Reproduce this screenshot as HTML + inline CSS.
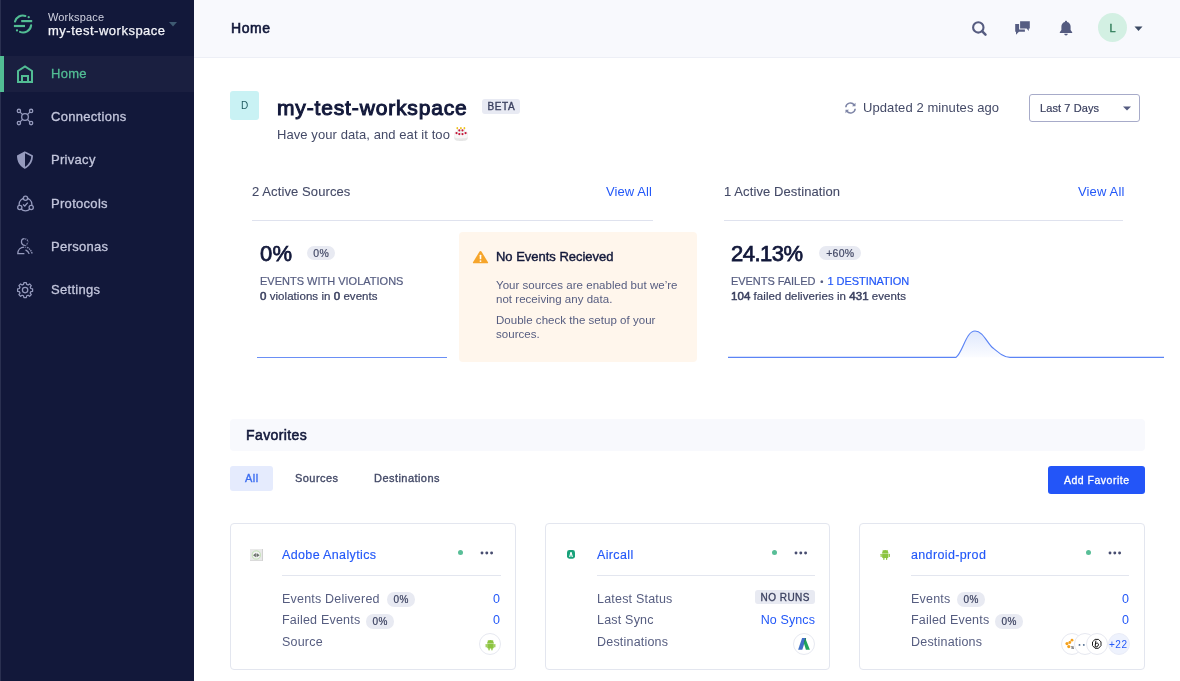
<!DOCTYPE html>
<html><head><meta charset="utf-8">
<style>
*{margin:0;padding:0;box-sizing:border-box}
html,body{width:1180px;height:681px;overflow:hidden;background:#fff;font-family:"Liberation Sans",sans-serif}
.a{position:absolute;white-space:nowrap;will-change:transform}
.nav .t{will-change:transform}
#side{position:absolute;left:0;top:0;width:194px;height:681px;background:#12183a}
#side .edge{position:absolute;left:0;top:0;width:1px;height:681px;background:#2a3050}
#side .ws1{left:48px;top:11px;font-size:11px;letter-spacing:0.15px;color:#d0d2e0}
#side .ws2{left:48px;top:23.5px;font-size:13px;line-height:14px;letter-spacing:0.5px;color:#f4f5fa;-webkit-text-stroke:0.25px currentColor}
.nav{position:absolute;left:0;width:194px;height:36px}
.nav .t{position:absolute;left:50.8px;top:11.2px;font-size:13px;line-height:13px;letter-spacing:0.3px;-webkit-text-stroke:0.3px currentColor;color:#c3c6dc}
.nav svg{position:absolute;left:16px;top:9px}
#hdr{position:absolute;left:194px;top:0;width:986px;height:58px;background:#f8f9fd;border-bottom:1px solid #edeff6}
</style></head><body>
<div id="side">
  <div class="edge"></div>
  <svg class="a" style="left:0;top:0" width="40" height="40" viewBox="0 0 40 40">
    <g fill="none" stroke="#52bd94" stroke-width="2.1" stroke-linecap="round">
      <path d="M15 21.6A8.1 8.1 0 0 1 25.4 16"/>
      <path d="M31.1 25.4A8.1 8.1 0 0 1 20 31.9"/>
    </g>
    <g stroke="#52bd94" stroke-width="2.2">
      <line x1="21.2" y1="21.1" x2="32.2" y2="21.1"/>
      <line x1="13.9" y1="26" x2="25" y2="26"/>
    </g>
    <circle cx="28.7" cy="17.2" r="1.15" fill="#52bd94"/>
    <circle cx="17" cy="30.4" r="1.15" fill="#52bd94"/>
  </svg>
  <div class="a ws1">Workspace</div>
  <div class="a ws2">my-test-workspace</div>
  <svg class="a" style="left:169px;top:22px" width="8" height="5"><path d="M0 0H8L4 4.5Z" fill="#3e5a72"/></svg>

  <div class="nav" style="top:56px;background:#1a1f40">
    <div style="position:absolute;left:0;top:0;width:3.5px;height:36px;background:#52bd94"></div>
    <div class="t" style="color:#52bd94">Home</div>
  </div>
  <div class="nav" style="top:99px"><div class="t">Connections</div></div>
  <div class="nav" style="top:142.2px"><div class="t">Privacy</div></div>
  <div class="nav" style="top:185.4px"><div class="t">Protocols</div></div>
  <div class="nav" style="top:228.8px"><div class="t">Personas</div></div>
  <div class="nav" style="top:271.8px"><div class="t">Settings</div></div>
  <svg class="a" style="left:0;top:50px" width="40" height="260" viewBox="0 50 40 260">
    <g fill="none" stroke="#52bd94" stroke-width="2" stroke-linejoin="miter">
      <path d="M18 82V71L25 66.5L32 71V82Z"/>
      <path d="M22 82V76H28V82"/>
    </g>
    <g fill="none" stroke="#959abd" stroke-width="1.3">
      <circle cx="25" cy="117" r="3.35"/>
      <circle cx="18.9" cy="110.9" r="1.65"/><circle cx="31.1" cy="110.9" r="1.65"/>
      <circle cx="18.9" cy="123.1" r="1.65"/><circle cx="31.1" cy="123.1" r="1.65"/>
      <path d="M20.1 112.1L22.6 114.6M29.9 112.1L27.4 114.6M20.1 121.9L22.6 119.4M29.9 121.9L27.4 119.4"/>
    </g>
    <path d="M25 151.2L17 155.4C17 161.5 19.5 165.8 25 168.9Z" fill="#959abd"/>
    <path d="M25 152.2L32.2 155.9C32 161.3 29.6 165.3 25 168" fill="none" stroke="#959abd" stroke-width="1.7" stroke-linejoin="round"/>
    <g fill="none" stroke="#959abd" stroke-width="1.3">
      <circle cx="25.5" cy="204.4" r="6.4"/>
      <circle cx="25.5" cy="198.3" r="2.1" fill="#13193b"/>
      <circle cx="19.8" cy="207.5" r="2.1" fill="#13193b"/>
      <circle cx="31.2" cy="207.5" r="2.1" fill="#13193b"/>
      <path d="M23 204.4L24.8 206L27.8 202.6"/>
    </g>
    <g fill="none" stroke="#959abd" stroke-width="1.3">
      <path d="M24.9 245.3A3.3 3.3 0 1 1 24.6 238.7"/>
      <path d="M25.3 238.8A3.3 3.3 0 0 1 27.9 242.2" stroke-dasharray="1.1 0.9"/>
      <path d="M27.5 243.3L26.5 244.9" stroke-dasharray="0.9 0.7"/>
      <path d="M25.6 245.2V247.6" stroke-dasharray="0.9 0.7"/>
      <path d="M24.2 247.1C20.5 247.3 17.8 250 17.8 253.6H24.4"/>
      <path d="M25.5 249.8C27.3 250.6 28.6 252 29.2 253.9"/>
      <path d="M27.2 247.4C29.6 248.6 31.3 250.8 32.3 253.9" stroke-dasharray="1.4 0.8"/>
    </g>
    <g fill="none" stroke="#959abd" stroke-width="1.25" stroke-linejoin="round">
      <circle cx="25.1" cy="290.1" r="2.7"/>
      <path d="M23.9 282.6H26.3L26.7 284.4L28.1 285L29.6 283.9L31.3 285.6L30.2 287.1L30.8 288.5L32.6 288.9V291.3L30.8 291.7L30.2 293.1L31.3 294.6L29.6 296.3L28.1 295.2L26.7 295.8L26.3 297.6H23.9L23.5 295.8L22.1 295.2L20.6 296.3L18.9 294.6L20 293.1L19.4 291.7L17.6 291.3V288.9L19.4 288.5L20 287.1L18.9 285.6L20.6 283.9L22.1 285L23.5 284.4Z"/>
    </g>
  </svg>
</div>

<div id="hdr">
  <div class="a" style="left:36.5px;top:21px;font-size:14px;line-height:14px;-webkit-text-stroke:0.6px currentColor;letter-spacing:0.6px;color:#12183a">Home</div>
  <svg class="a" style="left:777px;top:20px" width="17" height="17" viewBox="0 0 17 17"><circle cx="7.3" cy="7.4" r="5.2" fill="none" stroke="#565c80" stroke-width="2.1"/><path d="M11.3 11.4L14.5 14.6" stroke="#565c80" stroke-width="2.5" stroke-linecap="round"/></svg>
  <svg class="a" style="left:820px;top:20px" width="17" height="16" viewBox="0 0 17 16"><path d="M1.2 4.1H5.1V9.6H10.9V11.7H4.9L2 14.8V11.7H1.2Z" fill="#565d82"/><path d="M6.1 1.2H15.8V8.6H14.8V10.9L12.6 8.6H6.1Z" fill="#565d82"/></svg>
  <svg class="a" style="left:865px;top:20px" width="14" height="16" viewBox="0 0 14 16"><path d="M7 0.8C7.7 0.8 8.1 1.3 8.1 1.9C10.3 2.4 11.6 4.2 11.6 6.6V10L13.2 12.3V13H0.8V12.3L2.4 10V6.6C2.4 4.2 3.7 2.4 5.9 1.9C5.9 1.3 6.3 0.8 7 0.8Z" fill="#545b80"/><path d="M5.3 13.8H8.7C8.7 14.8 8 15.4 7 15.4C6 15.4 5.3 14.8 5.3 13.8Z" fill="#545b80"/></svg>
  <div class="a" style="left:904px;top:13px;width:29px;height:29px;border-radius:50%;background:#d3f0e3"></div>
  <div class="a" style="left:904px;top:14px;width:29px;height:29px;line-height:29px;text-align:center;font-size:11px;-webkit-text-stroke:0.35px currentColor;color:#2a7a55">L</div>
  <svg class="a" style="left:939.5px;top:26px" width="9" height="6"><path d="M0.5 0.5H8.5L4.5 5Z" fill="#3b4a63"/></svg>
</div>

<!-- workspace header -->
<div class="a" style="left:230px;top:91px;width:29px;height:29px;border-radius:3px;background:#c9f2f4"></div>
<div class="a" style="left:230px;top:91px;width:29px;height:29px;line-height:29px;text-align:center;font-size:10px;color:#1e5a5f">D</div>
<div class="a" style="left:277px;top:97px;font-size:21px;line-height:21px;-webkit-text-stroke:1px currentColor;letter-spacing:0.85px;color:#12183a">my-test-workspace</div>
<div class="a" style="left:482px;top:99px;width:38px;height:15px;border-radius:3px;background:#e8eaf3;font-size:10px;line-height:15px;-webkit-text-stroke:0.35px currentColor;color:#3b4160;text-align:center;letter-spacing:0.6px;text-indent:0.6px">BETA</div>
<div class="a" style="left:277px;top:128px;font-size:13px;line-height:13px;letter-spacing:0.08px;color:#444a67">Have your data, and eat it too</div>
<svg class="a" style="left:453px;top:126px" width="16" height="16" viewBox="0 0 16 16">
  <path d="M1.3 7.5C1.3 5.5 4 4.6 8 4.6C12 4.6 14.7 5.5 14.7 7.5V12.6C14.7 14.3 12 15.1 8 15.1C4 15.1 1.3 14.3 1.3 12.6Z" fill="#e6e6e6"/>
  <path d="M1.3 7.5C1.3 5.5 4 4.6 8 4.6C12 4.6 14.7 5.5 14.7 7.5V10.5C14.7 11.8 12 12.4 8 12.4C4 12.4 1.3 11.8 1.3 10.5Z" fill="#f7f7f7"/>
  <g fill="#dfeee6"><rect x="4" y="2.5" width="0.7" height="5"/><rect x="7.6" y="2.5" width="0.7" height="5.5"/><rect x="11.1" y="2.5" width="0.7" height="5"/></g>
  <g fill="#f0c31c"><ellipse cx="4.3" cy="2.2" rx="0.9" ry="1.1"/><ellipse cx="7.9" cy="2.2" rx="0.9" ry="1.1"/><ellipse cx="11.4" cy="2.2" rx="0.9" ry="1.1"/></g>
  <g fill="#c4173a"><circle cx="6.3" cy="4.4" r="1.05"/><circle cx="9.5" cy="4.4" r="1.05"/><circle cx="3.5" cy="7.1" r="1.1"/><circle cx="12.6" cy="7.1" r="1.1"/><circle cx="6.3" cy="8.1" r="1.1"/><circle cx="9.5" cy="8.1" r="1.1"/></g>
</svg>

<svg class="a" style="left:844px;top:102px" width="13" height="12" viewBox="0 0 13 12"><g fill="none" stroke="#7d84a6" stroke-width="1.5"><path d="M1.8 5.2A4.6 4.6 0 0 1 10.2 3"/><path d="M11.2 6.8A4.6 4.6 0 0 1 2.8 9"/></g><path d="M11.5 0.8V4.3H8Z" fill="#7d84a6"/><path d="M1.5 11.2V7.7H5Z" fill="#7d84a6"/></svg>
<div class="a" style="left:862.8px;top:100.5px;font-size:13px;line-height:13px;letter-spacing:0.08px;color:#444a67">Updated 2 minutes ago</div>
<div class="a" style="left:1029px;top:94px;width:111px;height:28px;border:1px solid #a7abc9;border-radius:3px;background:#fff"></div>
<div class="a" style="left:1039.5px;top:103px;font-size:11px;line-height:11px;letter-spacing:0.1px;-webkit-text-stroke:0.2px currentColor;color:#3b4160">Last 7 Days</div>
<svg class="a" style="left:1122.5px;top:106.3px" width="8" height="5"><path d="M0 0.5H8L4 4.5Z" fill="#545b80"/></svg>

<!-- sources stats -->
<div class="a" style="left:252px;top:185px;font-size:13px;line-height:13px;letter-spacing:0.1px;-webkit-text-stroke:0.1px currentColor;color:#444a67">2 Active Sources</div>
<div class="a" style="left:605.8px;top:185px;font-size:13px;line-height:13px;letter-spacing:0.1px;color:#2358f8">View All</div>
<div class="a" style="left:252px;top:220px;width:401px;height:1px;background:#dfe2ee"></div>
<div class="a" style="left:259.5px;top:243px;font-size:22px;line-height:22px;-webkit-text-stroke:0.75px currentColor;letter-spacing:0.3px;color:#12183a">0%</div>
<div class="a cb" style="left:307px;top:246px;width:28px;height:14px;line-height:14px;font-size:10.5px;letter-spacing:0.4px;color:#444a67">0%</div>
<div class="a" style="left:260px;top:275.7px;font-size:11px;line-height:11px;letter-spacing:0px;-webkit-text-stroke:0.2px currentColor;color:#565d80">EVENTS WITH VIOLATIONS</div>
<div class="a" style="left:260px;top:290.8px;font-size:11.5px;line-height:11.5px;letter-spacing:0.05px;-webkit-text-stroke:0.2px currentColor;color:#3b4160"><span style="-webkit-text-stroke:0.55px currentColor">0</span> violations in <span style="-webkit-text-stroke:0.55px currentColor">0</span> events</div>
<div class="a" style="left:257px;top:357px;width:190px;height:1px;background:#6a8ff5"></div>

<div class="a" style="left:459px;top:232px;width:238px;height:130px;border-radius:4px;background:#fff6ec"></div>
<svg class="a" style="left:472px;top:250px" width="17" height="14" viewBox="0 0 17 15" preserveAspectRatio="none"><path d="M8.5 1.2C9 1.2 9.3 1.5 9.6 2L16 13C16.3 13.6 16 14.2 15.3 14.2H1.7C1 14.2 0.7 13.6 1 13L7.4 2C7.7 1.5 8 1.2 8.5 1.2Z" fill="#f6a52b"/><rect x="7.7" y="5" width="1.6" height="5" rx="0.6" fill="#fff"/><circle cx="8.5" cy="11.8" r="0.95" fill="#fff"/></svg>
<div class="a" style="left:495.5px;top:249.8px;font-size:13px;line-height:13px;color:#12183a;-webkit-text-stroke:0.4px currentColor;letter-spacing:-0.02px">No Events Recieved</div>
<div class="a" style="left:495.5px;top:279px;font-size:11.5px;line-height:13.8px;letter-spacing:0.03px;color:#565d80">Your sources are enabled but we’re<br>not receiving any data.</div>
<div class="a" style="left:495.5px;top:314px;font-size:11.5px;line-height:13.8px;letter-spacing:0.03px;color:#565d80">Double check the setup of your<br>sources.</div>

<!-- destination stats -->
<div class="a" style="left:724px;top:185px;font-size:13px;line-height:13px;letter-spacing:0.1px;-webkit-text-stroke:0.1px currentColor;color:#444a67">1 Active Destination</div>
<div class="a" style="left:1077.6px;top:185px;font-size:13px;line-height:13px;letter-spacing:0.15px;color:#2358f8">View All</div>
<div class="a" style="left:724px;top:220px;width:399px;height:1px;background:#dfe2ee"></div>
<div class="a" style="left:731px;top:243px;font-size:22px;line-height:22px;-webkit-text-stroke:0.75px currentColor;color:#12183a;letter-spacing:-0.5px">24.13%</div>
<div class="a cb" style="left:819px;top:246px;width:42px;height:14px;line-height:14px;font-size:10.5px;letter-spacing:0.2px;color:#444a67">+60%</div>
<div class="a" style="left:731px;top:275.7px;font-size:11px;line-height:11px;letter-spacing:-0.05px;-webkit-text-stroke:0.2px currentColor;color:#565d80">EVENTS FAILED<span style="display:inline-block;font-size:9px;position:relative;top:0px;margin:0 4px 0 5px">•</span><span style="color:#2358f8">1 DESTINATION</span></div>
<div class="a" style="left:731px;top:290.8px;font-size:11.5px;line-height:11.5px;letter-spacing:0.05px;-webkit-text-stroke:0.2px currentColor;color:#3b4160"><span style="-webkit-text-stroke:0.55px currentColor">104</span> failed deliveries in <span style="-webkit-text-stroke:0.55px currentColor">431</span> events</div>
<svg class="a" style="left:720px;top:320px" width="450" height="45" viewBox="720 320 450 45">
  <defs><linearGradient id="g1" x1="0" y1="0" x2="0" y2="1"><stop offset="0" stop-color="#dfe8fd"/><stop offset="1" stop-color="#fbfcff"/></linearGradient></defs>
  <path d="M956 357.2C963 352 966 331 975 331C983 331 987 343 993 348C999 353 1004 357 1010 357.2Z" fill="url(#g1)"/>
  <path d="M728 357.4H956C963 352 966 331 975 331C983 331 987 343 993 348C999 353 1004 357.4 1010 357.4H1164" fill="none" stroke="#5b84f5" stroke-width="1.15"/>
</svg>

<!-- favorites -->
<div class="a" style="left:230px;top:419px;width:915px;height:32px;border-radius:4px;background:#f8f9fd"></div>
<div class="a" style="left:245.5px;top:428.3px;font-size:14px;line-height:14px;-webkit-text-stroke:0.55px currentColor;letter-spacing:0.4px;color:#12183a">Favorites</div>
<div class="a" style="left:230px;top:466px;width:43px;height:24.5px;border-radius:3px;background:#e5ebfd"></div>
<div class="a" style="left:245px;top:472.8px;font-size:11px;line-height:11px;letter-spacing:0.45px;-webkit-text-stroke:0.35px currentColor;color:#3c6df0">All</div>
<div class="a" style="left:294.5px;top:472.8px;font-size:11px;line-height:11px;letter-spacing:0.45px;-webkit-text-stroke:0.35px currentColor;color:#444a67">Sources</div>
<div class="a" style="left:373.5px;top:472.8px;font-size:11px;line-height:11px;letter-spacing:0.45px;-webkit-text-stroke:0.35px currentColor;color:#444a67">Destinations</div>
<div class="a" style="left:1048px;top:466px;width:97px;height:28px;border-radius:3px;background:#2355f8;color:#fff;font-size:10.5px;line-height:28.5px;text-align:center;letter-spacing:0.5px;text-indent:0.5px;-webkit-text-stroke:0.3px currentColor">Add Favorite</div>


<!-- cards -->
<style>
.cd{position:absolute;top:523px;height:147px;border:1px solid #e3e6ef;border-radius:4px;background:#fff}
.ct{top:549.1px;font-size:12.5px;line-height:12.5px;letter-spacing:0.36px;color:#2358f8;-webkit-text-stroke:0.15px currentColor}
.cdot{top:550.1px;width:5.3px;height:5.3px;border-radius:50%;background:#58be97}
.cdiv{top:575px;height:1px;background:#e3e6ef}
.cl{font-size:12.5px;line-height:12.5px;letter-spacing:0.2px;color:#565d80;margin-left:-0.3px}
.cv{font-size:12.5px;line-height:12.5px;color:#2358f8;text-align:right}
.cb{height:14.5px;border-radius:7.25px;background:#e8eaf2;font-size:10px;line-height:16px;letter-spacing:0.5px;text-indent:0.5px;-webkit-text-stroke:0.2px currentColor;text-align:center;color:#3b4160}
.ci{top:633px;width:22px;height:22px;border-radius:50%;border:1px solid #e6e8f0;background:#fff}
</style>
<div class="cd" style="left:230px;width:286px"></div>
<div class="a ct" style="left:282px">Adobe Analytics</div>
<div class="a cdot" style="left:458px"></div>
<svg class="a" style="left:480px;top:551px" width="14" height="4"><circle cx="2" cy="2" r="1.45" fill="#474d70"/><circle cx="6.8" cy="2" r="1.45" fill="#474d70"/><circle cx="11.6" cy="2" r="1.45" fill="#474d70"/></svg>
<div class="a cdiv" style="left:282px;width:219px"></div>
<svg class="a" style="left:250px;top:549px" width="13" height="12" viewBox="0 0 13 12"><rect x="0" y="0" width="13" height="12" fill="#e9e9e9"/><rect x="12.3" y="0" width="0.7" height="12" fill="#c8c8c8"/><rect x="0" y="11.3" width="13" height="0.7" fill="#d5d5d5"/><circle cx="6.3" cy="6" r="4.1" fill="#f2f2f2" stroke="#a6da8e" stroke-width="0.6"/><path d="M3 6.2L5.9 3.9V8.3Z M9.6 6.2L6.7 3.9V8.3Z" fill="#6a6f6a"/><rect x="5.9" y="5" width="0.8" height="2.4" fill="#9aa09a"/></svg>
<div class="a cl" style="left:282px;top:593.1px">Events Delivered</div><div class="a cb" style="left:387.2px;top:592.2px;width:28px">0%</div><div class="a cv" style="left:450.3px;width:50px;top:593.1px">0</div>
<div class="a cl" style="left:282px;top:614.1px">Failed Events</div><div class="a cb" style="left:366px;top:613.6px;width:28px">0%</div><div class="a cv" style="left:450.3px;width:50px;top:614.1px">0</div>
<div class="a cl" style="left:282px;top:636.3px">Source</div>
<div class="a ci" style="left:479px"><svg class="a" style="left:5px;top:4.5px" width="11" height="12" viewBox="0 0 11 12"><path d="M2.2 4.4A3.3 3.5 0 0 1 8.8 4.4Z" fill="#8cc43f"/><path d="M3 1L3.8 2.4M8 1L7.2 2.4" stroke="#8cc43f" stroke-width="0.7"/><path d="M2.2 4.8H8.8V8.6Q8.8 9.4 8 9.4H3Q2.2 9.4 2.2 8.6Z" fill="#8cc43f"/><rect x="0.6" y="4.9" width="1.2" height="3.5" rx="0.6" fill="#8cc43f"/><rect x="9.2" y="4.9" width="1.2" height="3.5" rx="0.6" fill="#8cc43f"/><rect x="3.4" y="8.8" width="1.3" height="2.6" rx="0.6" fill="#8cc43f"/><rect x="6.3" y="8.8" width="1.3" height="2.6" rx="0.6" fill="#8cc43f"/></svg></div>
<div class="cd" style="left:545px;width:285px"></div>
<div class="a ct" style="left:597px">Aircall</div>
<div class="a cdot" style="left:772px"></div>
<svg class="a" style="left:794px;top:551px" width="14" height="4"><circle cx="2" cy="2" r="1.45" fill="#474d70"/><circle cx="6.8" cy="2" r="1.45" fill="#474d70"/><circle cx="11.6" cy="2" r="1.45" fill="#474d70"/></svg>
<div class="a cdiv" style="left:597px;width:218px"></div>
<svg class="a" style="left:566.9px;top:550px" width="8" height="8.7" viewBox="0 0 8 8.7"><rect x="0" y="0" width="8" height="8.7" rx="2.4" fill="#18a27a"/><path d="M2.1 6.9L3.4 2H4.6L5.9 6.9H4.7L4 4.2L3.3 6.9Z" fill="#fff"/></svg>
<div class="a cl" style="left:597px;top:593.1px">Latest Status</div>
<div class="a" style="left:755px;top:590.2px;width:60px;height:13.5px;border-radius:3px;background:#e8eaf2;font-size:10px;line-height:15.5px;-webkit-text-stroke:0.3px currentColor;text-align:center;color:#3b4160;letter-spacing:0.45px;text-indent:0.45px">NO RUNS</div>
<div class="a cl" style="left:597px;top:614.1px">Last Sync</div><div class="a cv" style="left:715px;width:100px;top:614.1px;letter-spacing:0.1px">No Syncs</div>
<div class="a cl" style="left:597px;top:636.3px">Destinations</div>
<div class="a ci" style="left:793px"><svg class="a" style="left:0;top:0" width="20" height="20" viewBox="794 634 20 20"><path d="M802.1 638.1H806.1L802.3 649.8H798.1Z" fill="#3f6fc6"/><path d="M805.3 638.3L809.9 649.8H805.9L803.9 643.2Z" fill="#1fa45a"/><path d="M805.3 638.3L806.1 638.1L804.7 642.3L803.9 643.2Z" fill="#16783f"/></svg></div>
<div class="cd" style="left:859px;width:286px"></div>
<div class="a ct" style="left:911px">android-prod</div>
<div class="a cdot" style="left:1085.9px"></div>
<svg class="a" style="left:1108.2px;top:551px" width="14" height="4"><circle cx="2" cy="2" r="1.45" fill="#474d70"/><circle cx="6.8" cy="2" r="1.45" fill="#474d70"/><circle cx="11.6" cy="2" r="1.45" fill="#474d70"/></svg>
<div class="a cdiv" style="left:911px;width:218px"></div>
<svg class="a" style="left:880px;top:549px" width="10.5" height="11.5" viewBox="0 0 11 12"><path d="M2.2 4.4A3.3 3.5 0 0 1 8.8 4.4Z" fill="#8cc43f"/><path d="M3 1L3.8 2.4M8 1L7.2 2.4" stroke="#8cc43f" stroke-width="0.7"/><path d="M2.2 4.8H8.8V8.6Q8.8 9.4 8 9.4H3Q2.2 9.4 2.2 8.6Z" fill="#8cc43f"/><rect x="0.6" y="4.9" width="1.2" height="3.5" rx="0.6" fill="#8cc43f"/><rect x="9.2" y="4.9" width="1.2" height="3.5" rx="0.6" fill="#8cc43f"/><rect x="3.4" y="8.8" width="1.3" height="2.6" rx="0.6" fill="#8cc43f"/><rect x="6.3" y="8.8" width="1.3" height="2.6" rx="0.6" fill="#8cc43f"/></svg>
<div class="a cl" style="left:911px;top:593.1px">Events</div><div class="a cb" style="left:956.9px;top:592.2px;width:28px">0%</div><div class="a cv" style="left:1078.6px;width:50px;top:593.1px">0</div>
<div class="a cl" style="left:911px;top:614.1px">Failed Events</div><div class="a cb" style="left:995.2px;top:613.6px;width:28px">0%</div><div class="a cv" style="left:1078.6px;width:50px;top:614.1px">0</div>
<div class="a cl" style="left:911px;top:636.3px">Destinations</div>
<div class="a ci" style="left:1060.5px"><svg class="a" style="left:0;top:0" width="20" height="20" viewBox="1061.5 634 20 20"><g fill="#f5a11c"><circle cx="1066.5" cy="643.6" r="1.6"/><circle cx="1069.3" cy="642.5" r="1.4"/><circle cx="1068.3" cy="646.6" r="1.6"/><circle cx="1071.5" cy="640.2" r="1.4"/></g><text x="1070.6" y="648.6" font-size="5.5" font-family="Liberation Sans" font-weight="bold" fill="#333">s</text></svg></div>
<div class="a ci" style="left:1074.3px"><svg class="a" style="left:0;top:0" width="20" height="20" viewBox="1075.3 634 20 20"><circle cx="1079.8" cy="644.9" r="0.95" fill="#4e6b8f"/><circle cx="1084.1" cy="644.9" r="0.95" fill="#4e6b8f"/></svg></div>
<div class="a ci" style="left:1086.3px"><svg class="a" style="left:0;top:0" width="20" height="20" viewBox="1087.3 634 20 20"><path d="M1095.4 639.4H1098.8L1101.3 641.9V645.6L1098.8 648.3H1095.4L1092.8 645.6V641.9Z" fill="none" stroke="#111" stroke-width="0.95"/><path d="M1096.2 640.6L1095.4 646.8M1095.7 644.2C1096.3 642.8 1099.2 642.6 1098.7 645C1098.3 646.8 1096.5 647.2 1095.4 646.8" fill="none" stroke="#111" stroke-width="1"/></svg></div>
<div class="a ci" style="left:1107.5px;border-color:#e9ecf7;background:#eef2fd"></div>
<div class="a" style="left:1108.9px;top:639px;font-size:10px;line-height:12px;letter-spacing:0.5px;color:#2358f8">+22</div>
</body></html>
